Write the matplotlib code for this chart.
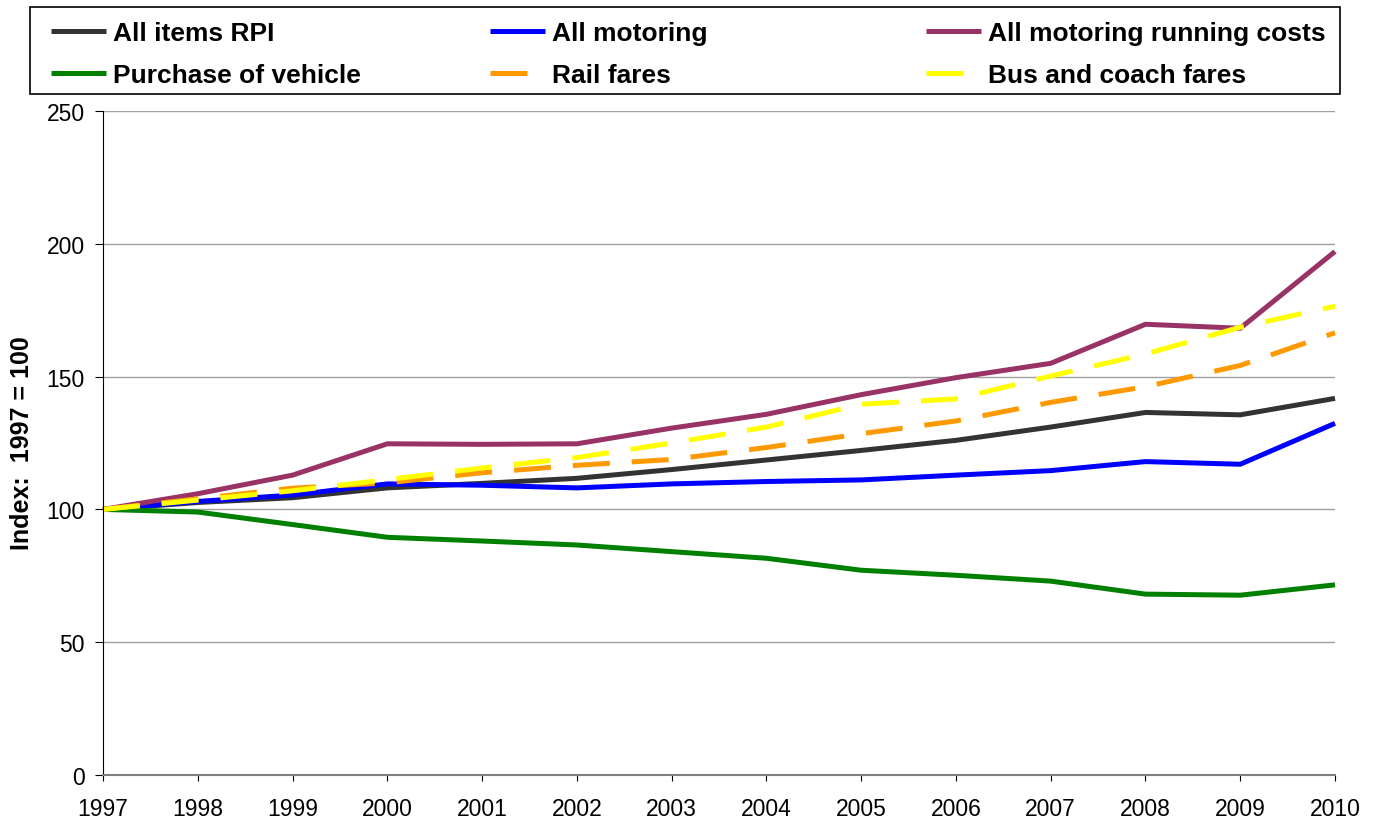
import matplotlib
matplotlib.use("Agg")
import matplotlib.pyplot as plt
from matplotlib.patches import Rectangle

plt.rcParams["font.family"] = ["Liberation Sans", "DejaVu Sans"]

YEARS = list(range(1997, 2011))

RPI = [100, 102.6, 104.4, 108.1, 109.8, 111.7, 115.0, 118.6, 122.2, 126.0, 131.0, 136.5, 135.6, 141.8]
MOTORING = [100, 103.0, 105.4, 109.6, 109.1, 108.1, 109.6, 110.5, 111.1, 112.9, 114.6, 118.0, 117.0, 132.4]
RUNNING = [100, 105.9, 112.9, 124.7, 124.5, 124.7, 130.6, 135.8, 143.2, 149.6, 155.0, 169.7, 168.2, 197.1]
PURCHASE = [100, 99.0, 94.3, 89.5, 88.1, 86.6, 84.1, 81.6, 77.1, 75.2, 73.0, 68.1, 67.7, 71.6]
RAIL = [100, 104.0, 108.0, 110.0, 113.8, 116.6, 118.8, 123.3, 128.5, 133.3, 140.3, 146.2, 154.2, 166.5]
BUS = [100, 103.5, 107.0, 111.2, 115.6, 119.5, 125.0, 131.0, 139.6, 141.6, 150.2, 158.5, 168.6, 176.5]

LABELS = ["All items RPI", "All motoring", "All motoring running costs",
          "Purchase of vehicle", "Rail fares", "Bus and coach fares"]
COLORS = ["#333333", "#0000FF", "#993366", "#008000", "#FF9900", "#FFFF00"]
DASHED = [False, False, False, False, True, True]

W, H = 1375, 820
fig = plt.figure(figsize=(W / 100, H / 100), dpi=100, facecolor="white")
ax = fig.add_axes([103 / W, 1 - 776 / H, (1335 - 103) / W, (776 - 112) / H])

lw = 3.6
series = [RPI, MOTORING, RUNNING, PURCHASE, RAIL, BUS]
handles = []
for vals, label, color, dashed in zip(series, LABELS, COLORS, DASHED):
    line, = ax.plot(YEARS, vals, color=color, lw=lw, label=label,
                    solid_capstyle="butt", dash_capstyle="butt", clip_on=False)
    if dashed:
        line.set_dashes((7.4, 4.4))
    handles.append(line)

ax.set_xlim(1997, 2010)
ax.set_ylim(0, 250)
ax.set_xticks(YEARS)
ax.set_yticks(range(0, 251, 50))
ax.tick_params(axis="both", labelsize=16.5, direction="out", color="black")
ax.tick_params(axis="y", length=6, pad=7)
ax.tick_params(axis="x", length=4, pad=12)
ax.yaxis.grid(True, color="#a0a0a0", linewidth=1)
ax.set_axisbelow(True)
for s in ["top", "right"]:
    ax.spines[s].set_visible(False)
ax.spines["left"].set_color("black")
ax.spines["bottom"].set_color("#808080")
ax.spines["bottom"].set_linewidth(1.5)

fig.text(22 / W, 1 - 443 / H, "Index:  1997 = 100", rotation=90, fontsize=18,
         fontweight="bold", ha="center", va="center")

# legend box with three evenly spaced columns
fig.patches.append(Rectangle((30 / W, 1 - 95 / H), 1310 / W, 87 / H,
                             transform=fig.transFigure, fill=False,
                             edgecolor="black", linewidth=1.2))
col_x = [51, 490, 926]
for c in range(3):
    hs = [handles[c], handles[c + 3]]
    fig.legend(hs, [h.get_label() for h in hs], loc="upper left",
               bbox_to_anchor=(col_x[c] / W, 1 - 22 / H),
               frameon=False, borderpad=0, borderaxespad=0,
               handlelength=2.1, handletextpad=0.25, labelspacing=0.68,
               prop={"size": 19, "weight": "bold"})

fig.savefig("out.png", dpi=100, facecolor="white")
